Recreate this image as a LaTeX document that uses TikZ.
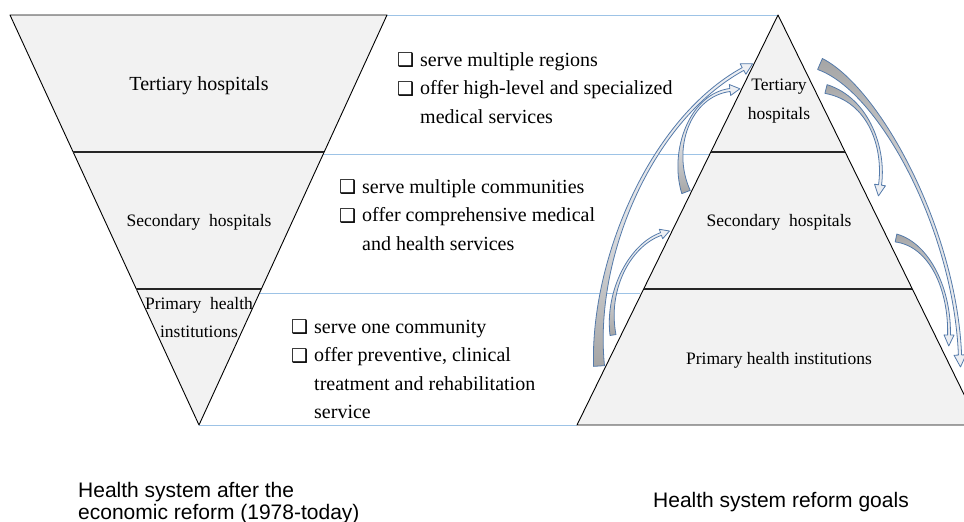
\documentclass[tikz,border=0pt]{standalone}
\usepackage{fontspec}
\setmainfont{Liberation Serif}
\newfontfamily\arialf{Liberation Sans}
\newfontfamily\djv{DejaVu Sans}
\usetikzlibrary{calc}
\definecolor{trifill}{RGB}{242,242,242}
\definecolor{sepblue}{RGB}{157,195,230}
\definecolor{arrline}{RGB}{84,122,170}
\definecolor{arrdark}{RGB}{165,165,165}
\definecolor{arrlight}{RGB}{238,240,244}
\newcommand{\bx}{\makebox[23pt][l]{\raisebox{-0.5pt}{\djv\fontsize{19}{19}\selectfont ❑}}}
% #1-#4 Bezier points, #5 tail half width, #6 shaft half width, #7 head half width, #8 head length, #9 extra style
\newcommand{\bandarrow}[9]{%
  \coordinate (P0) at #1; \coordinate (P1) at #2;
  \coordinate (P2) at #3; \coordinate (P3) at #4;
  \draw[bandarrowstyle,#9]
    ($(P0)!#5!90:(P1)$) .. controls ($(P1)!#6!-90:(P0)$) and ($(P2)!#6!90:(P3)$) .. ($(P3)!#6!-90:(P2)$)
    -- ($(P3)!#7!-90:(P2)$) -- ($(P3)!-#8!(P2)$) -- ($(P3)!#7!90:(P2)$)
    -- ($(P3)!#6!90:(P2)$) .. controls ($(P2)!#6!-90:(P3)$) and ($(P1)!#6!90:(P0)$) .. ($(P0)!#5!-90:(P1)$)
    -- cycle;}
\begin{document}
\begin{tikzpicture}[x=1pt,y=-1pt,
  tri/.style={draw=black,line width=0.9pt,fill=trifill,line join=round},
  level/.style={draw=black!85,line width=1.3pt},
  sepline/.style={draw=sepblue,line width=1pt},
  bandarrowstyle/.style={draw=arrline,line width=0.8pt,line join=round},
  tailup/.style={top color=arrdark,bottom color=arrlight,middle color=arrlight!80!arrdark},
  taildown/.style={bottom color=arrdark,top color=arrlight,middle color=arrlight!80!arrdark},
  lab/.style={inner sep=0pt,anchor=base,font=\fontsize{17.5}{21}\selectfont},
  bigl/.style={inner sep=0pt,anchor=base,font=\fontsize{20}{24}\selectfont},
  item/.style={inner sep=0pt,anchor=base west,font=\fontsize{20}{24}\selectfont},
  captxt/.style={inner sep=0pt,anchor=base west,font=\arialf\fontsize{21}{24}\selectfont}]
\useasboundingbox (0,0) rectangle (964,522);
\begin{scope}
\clip (0,0) rectangle (964,522);
% corners
\coordinate (LA) at (10,15); \coordinate (LB) at (387,15); \coordinate (LC) at (199,425);
\coordinate (RA) at (778,15); \coordinate (RB) at (979,425); \coordinate (RC) at (577,425);
% blue separator lines
\draw[sepline] (LB) -- (RA);
\draw[sepline] (322,154.5) -- (709,154.5);
\draw[sepline] (260,293) -- (640,293);
\draw[sepline] (LC) -- (RC);
% left inverted triangle
\draw[tri] (LA) -- (LB) -- (LC) -- cycle;
\draw[level] ($(LA)!0.3341!(LC)$) -- ($(LB)!0.3341!(LC)$);
\draw[level] ($(LA)!0.6683!(LC)$) -- ($(LB)!0.6683!(LC)$);
% right triangle
\draw[tri] (RA) -- (RB) -- (RC) -- cycle;
\draw[level] ($(RA)!0.3341!(RC)$) -- ($(RA)!0.3341!(RB)$);
\draw[level] ($(RA)!0.6683!(RC)$) -- ($(RA)!0.6683!(RB)$);
% left labels
\node[bigl] (lt) at (199,90.5) {Tertiary hospitals};
\node[lab] (ls) at (199,226.5) {Secondary\ \ hospitals};
\node[lab] (lp1) at (199,309) {Primary\ \ health};
\node[lab] (lp2) at (199,337.5) {institutions};
% right labels
\node[lab] (rt1) at (779,90) {Tertiary};
\node[lab] (rt2) at (779,119.5) {hospitals};
\node[lab] (rs) at (779,226.5) {Secondary\ \ hospitals};
\node[lab] (rp) at (779,364) {Primary health institutions};
% bullet blocks
\node[item] (a1) at (397,66) {\bx serve multiple regions};
\node[item] (a2) at (397,94.5) {\bx offer high-level and specialized};
\node[item] (a3) at (420,123) {medical services};
\node[item] (b1) at (339,193) {\bx serve multiple communities};
\node[item] (b2) at (339,221.5) {\bx offer comprehensive medical};
\node[item] (b3) at (362,250) {and health services};
\node[item] (c1) at (291,333) {\bx serve one community};
\node[item] (c2) at (291,361.5) {\bx offer preventive, clinical};
\node[item] (c3) at (314,390) {treatment and rehabilitation};
\node[item] (c4) at (314,418.5) {service};
% curved arrows
\bandarrow{(599,366)}{(592,260)}{(650,120)}{(743,69)}{5.5pt}{1.6pt}{6pt}{11pt}{taildown}
\bandarrow{(613,335)}{(606,290)}{(630,245)}{(661,234)}{3pt}{1.4pt}{5pt}{9pt}{taildown}
\bandarrow{(686,192)}{(670,150)}{(690,95)}{(730,90)}{4.5pt}{1.5pt}{5.5pt}{10pt}{taildown}
\bandarrow{(820,64)}{(880,90)}{(955,230)}{(960,355)}{6pt}{1.6pt}{6pt}{12pt}{tailup}
\bandarrow{(826,89)}{(870,100)}{(885,150)}{(880,185)}{4.5pt}{1.5pt}{5.5pt}{11pt}{tailup}
\bandarrow{(896,238)}{(930,245)}{(950,290)}{(949,335)}{4pt}{1.4pt}{5pt}{11pt}{tailup}
% captions
\node[captxt] (cl1) at (78,497) {Health system after the};
\node[captxt] (cl2) at (78,519) {economic reform (1978-today)};
\node[captxt] (cr) at (653,507) {Health system reform goals};
\end{scope}
\end{tikzpicture}
\end{document}
